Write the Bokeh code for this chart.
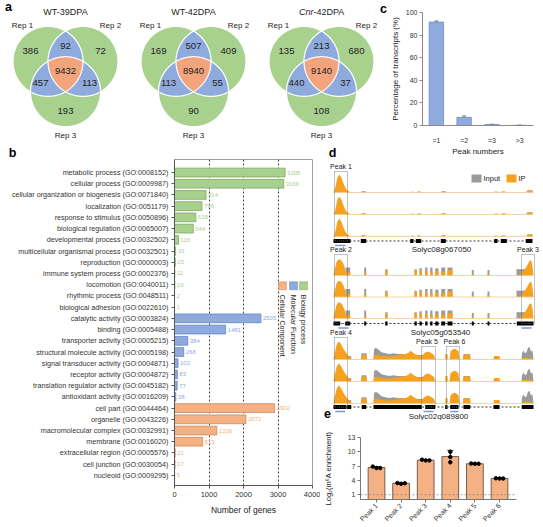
import math
import numpy as np
from bokeh.plotting import figure
from bokeh.layouts import row, column
from bokeh.models import (Range1d, FixedTicker, ColumnDataSource, Whisker,
                          TeeHead, FactorRange, Span)
from bokeh.core.properties import value
from bokeh.embed import file_html
from bokeh.resources import INLINE

FONT = "Liberation Sans"

# ---------------- data: panel a ----------------
venn_titles = ["WT-39DPA", "WT-42DPA", "Cnr-42DPA"]
rep_names = ["Rep 1", "Rep 2", "Rep 3"]
only_rep1 = [386, 169, 135]
only_rep2 = [72, 409, 680]
only_rep3 = [193, 90, 108]
rep1_rep2 = [92, 507, 213]
rep1_rep3 = [457, 113, 440]
rep2_rep3 = [113, 55, 37]
all_reps = [9432, 8940, 9140]

# ---------------- data: panel b ----------------
go_groups = ["Biology process", "Molecular Function", "Cellular Component"]
bp_terms = ["metabolic process (GO:0008152)", "cellular process (GO:0009987)",
            "cellular organization or biogenesis (GO:0071840)", "localization (GO:0051179)",
            "response to stimulus (GO:0050896)", "biological regulation (GO:0065007)",
            "developmental process (GO:0032502)", "multicellular organismal process (GO:0032501)",
            "reproduction (GO:0000003)", "immune system process (GO:0002376)",
            "locomotion (GO:0040011)", "rhythmic process (GO:0048511)",
            "biological adhesion (GO:0022610)"]
bp_counts = [3205, 3166, 914, 796, 618, 544, 116, 33, 25, 11, 10, 2, 1]
mf_terms = ["catalytic activity (GO:0003824)", "binding (GO:0005488)",
            "transporter activity (GO:0005215)", "structural molecule activity (GO:0005198)",
            "signal transducer activity (GO:0004871)", "receptor activity (GO:0004872)",
            "translation regulator activity (GO:0045182)", "antioxidant activity (GO:0016209)"]
mf_counts = [2505, 1481, 384, 268, 102, 83, 77, 38]
cc_terms = ["cell part (GO:0044464)", "organelle (GO:0043226)",
            "macromolecular complex (GO:0032991)", "membrane (GO:0016020)",
            "extracellular region (GO:0005576)", "cell junction (GO:0030054)",
            "nucleoid (GO:0009295)"]
cc_counts = [2902, 2072, 1226, 813, 21, 17, 5]
b_xticks = [0, 1000, 2000, 3000, 4000]

# ---------------- data: panel c ----------------
peak_number_cats = ["=1", "=2", "=3", ">3"]
transcript_pct = [91.5, 7.2, 0.9, 0.2]
transcript_pct_err = [1.0, 1.2, 0.2, 0.1]
c_yticks = [0, 20, 40, 60, 80, 100]

# ---------------- data: panel d ----------------
d_genes = ["Solyc08g067050", "Solyc05g053540", "Solyc02g089800"]
d_peak_names = ["Peak 1", "Peak 2", "Peak 3", "Peak 4", "Peak 5", "Peak 6"]
d_peak_locus = [0, 1, 1, 2, 2, 2]
d_peak_start = [1, 1, 188, 1, 88, 113]
d_peak_end = [14, 14, 201, 14, 102, 126]
d_probe_locus = [0, 1, 1, 2, 2, 2]
d_probe_start = [1.7, 5, 188, 1.7, 90, 116.7]
d_probe_end = [12, 15, 198, 11.7, 100, 125]
exon_start = [[0, 27.3, 76.7, 82.3, 107.3, 160.7, 167.3, 192.3],
              [0, 11.7, 30.7, 51.7, 81, 86, 91.7, 96.7, 101.7, 107.7, 114, 138.3, 154, 183.3],
              [0, 13.5, 28.3, 40, 91.7, 111.7, 116.7, 130, 160, 188.3]]
exon_end = [[17, 32.7, 80, 87.7, 112.3, 164, 173.3, 199],
            [6.7, 16.7, 32.7, 54, 83.3, 88.3, 94, 99, 105, 111.7, 119, 140.3, 156, 200],
            [13, 17.7, 32.7, 88.3, 101.7, 114, 125, 136.7, 166, 200]]
# IP coverage (smooth shapes): per locus, list of (x list, height list)
ip_curves = [
    [([0, 1, 2, 4, 6, 8, 10, 12, 14, 16, 18],
      [0, 0.1, 0.35, 0.85, 1.0, 0.8, 0.5, 0.25, 0.1, 0.04, 0])],
    [([0, 1, 3, 5, 7, 9, 11, 12, 13], [0, 0.3, 0.75, 0.9, 0.88, 0.75, 0.5, 0.25, 0]),
     ([186, 188, 190, 192, 194, 196, 197, 198, 199, 200],
      [0, 0.15, 0.25, 0.4, 0.6, 0.8, 0.85, 0.8, 0.5, 0])],
    [([0, 1, 3, 5, 7, 9, 11, 13, 15, 17, 18], [0, 0.3, 0.8, 1.0, 0.9, 0.7, 0.5, 0.35, 0.2, 0.12, 0]),
     ([27.5, 28, 30, 33, 33.5], [0, 0.2, 0.3, 0.25, 0]),
     ([40, 40.5, 44, 48, 52, 56, 60, 64, 68, 72, 75, 77, 79, 82, 85, 88, 90, 92, 94, 96, 98, 100, 101, 101.5],
      [0, 0.25, 0.25, 0.2, 0.18, 0.15, 0.2, 0.22, 0.28, 0.3, 0.38, 0.48, 0.4, 0.28, 0.22, 0.2, 0.3, 0.4, 0.45, 0.42, 0.35, 0.28, 0.2, 0]),
     ([111.7, 112, 114, 114.3], [0, 0.3, 0.3, 0]),
     ([116, 117, 119, 121, 123, 125, 126], [0, 0.45, 0.55, 0.6, 0.55, 0.45, 0]),
     ([129.5, 130, 133, 136.5, 137], [0, 0.25, 0.3, 0.25, 0]),
     ([160, 160.5, 166, 166.5], [0, 0.2, 0.2, 0]),
     ([188, 189, 199, 200], [0, 0.08, 0.08, 0])],
]
input_curves = [
    [],
    [],
    [([13, 13.5, 17.5, 18], [0, 0.2, 0.2, 0]),
     ([27.5, 28, 33, 33.5], [0, 0.35, 0.35, 0]),
     ([40, 40.5, 42, 44, 46, 48, 52, 56, 60, 64, 68, 72, 76, 80, 84, 88, 92, 96, 100, 101.5],
      [0, 0.55, 0.65, 0.6, 0.5, 0.4, 0.35, 0.3, 0.35, 0.3, 0.3, 0.3, 0.3, 0.3, 0.25, 0.25, 0.25, 0.25, 0.2, 0]),
     ([129.5, 130, 136.5, 137], [0, 0.3, 0.3, 0]),
     ([188, 188.5, 190, 191.5, 193, 194.5, 196, 197.5, 199, 200],
      [0, 0.35, 0.5, 0.35, 0.4, 0.65, 0.7, 0.45, 0.5, 0])],
]
# blocky coverage: per locus (starts, ends, heights)
ip_blocks = [
    ([28, 78, 84, 108, 161, 168, 193], [32, 80, 87, 112, 164, 172, 199],
     [0.07, 0.05, 0.06, 0.07, 0.05, 0.06, 0.1]),
    ([13, 30.7, 51.7, 81, 86, 91.7, 96.7, 101.7, 107.7, 114, 138.3, 154],
     [16.7, 32.7, 54, 83.3, 88.3, 94, 99, 105, 111.7, 119, 140.3, 156],
     [0.2, 0.15, 0.3, 0.3, 0.3, 0.25, 0.2, 0.25, 0.2, 0.3, 0.08, 0.08]),
    ([], [], []),
]
input_blocks = [
    ([28, 84, 108, 168, 194], [32, 87, 112, 172, 199], [0.05, 0.04, 0.05, 0.04, 0.12]),
    ([12, 30.7, 51.7, 81, 86, 91.7, 96.7, 101.7, 107.7, 114, 138.3, 154, 183],
     [16.7, 32.7, 54, 83.3, 88.3, 94, 99, 105, 111.7, 119, 140.3, 156, 192],
     [0.45, 0.45, 0.35, 0.35, 0.4, 0.45, 0.45, 0.4, 0.45, 0.45, 0.3, 0.3, 0.35]),
    ([], [], []),
]

# ---------------- data: panel e ----------------
e_peaks = ["Peak 1", "Peak 2", "Peak 3", "Peak 4", "Peak 5", "Peak 6"]
e_means = [6.7, 3.4, 8.25, 9.0, 7.5, 4.4]
e_err = [0.2, 0.1, 0.1, 1.3, 0.05, 0.1]
e_rep1 = [6.9, 3.45, 8.35, 10.0, 7.55, 4.45]
e_rep2 = [6.6, 3.3, 8.2, 8.9, 7.5, 4.4]
e_rep3 = [6.6, 3.4, 8.2, 7.8, 7.5, 4.4]
e_yticks = [1, 4, 7, 10, 13]

# ---------------- styles / layout (page px) ----------------
GREEN, BLUE, ORANGE = "#a9d18e", "#8faadc", "#f2a47c"
BAR_OR = "#f4b183"
IP_COL, INPUT_COL = "#f7a21e", "#9b9b9b"
TXT = "#222222"

W_TOT, H_TOT = 543, 527
ROW1_H = 158
A_W = 387
C_W = W_TOT - A_W
ROW2_H = H_TOT - ROW1_H
B_W = 320
D_W = W_TOT - B_W
D_H = 262
E_H = ROW2_H - D_H


def base_fig(**kw):
    f = figure(output_backend="svg", toolbar_location=None, title=None, **kw)
    f.background_fill_color = "white"
    f.border_fill_color = "white"
    f.frame_align = False
    return f


def style_axis(ax, size="7px"):
    ax.major_label_text_font = FONT
    ax.major_label_text_font_size = size
    ax.major_label_text_color = "#333333"
    ax.axis_label_text_font = FONT
    ax.axis_label_text_font_style = "normal"
    ax.axis_label_text_color = TXT
    ax.minor_tick_line_color = None


def letters(f, xs, ys, labels):
    f.text(x=xs, y=ys, text=labels, text_align="center", text_baseline="middle",
           text_font=value("Liberation Sans"), text_font_size="12.5px", text_font_style="bold",
           text_color="black")


# ================= panel a (also hosts letters a, b, c, d) =================
pa = base_fig(width=A_W, height=ROW1_H, x_range=Range1d(0, A_W),
              y_range=Range1d(ROW1_H, 0), x_axis_location=None, y_axis_location=None,
              min_border=0)
pa.grid.visible = False
pa.outline_line_color = None


def circ(c, n=360):
    t = np.linspace(0, 2 * np.pi, n, endpoint=False)
    return c[0] + c[2] * np.cos(t), c[1] + c[2] * np.sin(t)


def inter_poly(cs):
    pts = []
    for i, c in enumerate(cs):
        xs, ys = circ(c, 1440)
        m = np.ones(xs.shape, bool)
        for j, c2 in enumerate(cs):
            if j != i:
                m &= (xs - c2[0]) ** 2 + (ys - c2[1]) ** 2 <= c2[2] ** 2 + 1e-9
        pts.append(np.c_[xs[m], ys[m]])
    P = np.vstack(pts)
    ctr = P.mean(0)
    o = np.argsort(np.arctan2(P[:, 1] - ctr[1], P[:, 0] - ctr[0]))
    return list(P[o, 0]), list(P[o, 1])


venn_cx = [65, 193, 321]
venn_cy = 71.0
side, R = 35.0, 35.0
offs = {"o1": (-35, -21), "o2": (35, -21), "o3": (0, 39), "12": (0, -26),
        "13": (-25, 11), "23": (24, 11), "123": (0, -1)}
for k in range(3):
    cx = venn_cx[k]
    cs = [(cx - side / 2, venn_cy - side / (2 * math.sqrt(3)), R),
          (cx + side / 2, venn_cy - side / (2 * math.sqrt(3)), R),
          (cx, venn_cy + side / math.sqrt(3), R)]
    cxs, cys = [], []
    for c in cs:
        x, y = circ(c)
        cxs.append(list(x)); cys.append(list(y))
    pa.patches(cxs, cys, fill_color=GREEN, line_color=None)
    lx, ly = [], []
    for pair in [(0, 1), (0, 2), (1, 2)]:
        x, y = inter_poly([cs[pair[0]], cs[pair[1]]])
        lx.append(x); ly.append(y)
    pa.patches(lx, ly, fill_color=BLUE, line_color=None)
    tx, ty = inter_poly(cs)
    pa.patch(tx, ty, fill_color=ORANGE, line_color=None)
    pa.multi_line([x + x[:1] for x in cxs], [y + y[:1] for y in cys], line_color="white", line_width=1.2)
    vals = {"o1": only_rep1[k], "o2": only_rep2[k], "o3": only_rep3[k], "12": rep1_rep2[k],
            "13": rep1_rep3[k], "23": rep2_rep3[k], "123": all_reps[k]}
    keys = list(vals)
    pa.text(x=[cx + offs[q][0] for q in keys], y=[venn_cy + offs[q][1] for q in keys],
            text=[str(vals[q]) for q in keys], text_align="center", text_baseline="middle",
            text_font=value(FONT), text_font_size="9.5px", text_color=TXT)
    pa.text(x=[cx - 43, cx + 45, cx], y=[venn_cy - 46, venn_cy - 46, venn_cy + 64],
            text=rep_names, text_align="center", text_baseline="middle",
            text_font=value(FONT), text_font_size="8px", text_color=TXT)
    title = venn_titles[k]
    ty0 = venn_cy - 59.3
    if title.startswith("Cnr"):
        pa.text(x=[cx - 8], y=[ty0], text=["Cnr"], text_align="right", text_baseline="middle",
                text_font=value(FONT), text_font_size="9px", text_font_style="italic", text_color=TXT)
        pa.text(x=[cx - 8], y=[ty0], text=[title[3:]], text_align="left", text_baseline="middle",
                text_font=value(FONT), text_font_size="9px", text_color=TXT)
    else:
        pa.text(x=[cx], y=[ty0], text=[title], text_align="center", text_baseline="middle",
                text_font=value(FONT), text_font_size="9px", text_color=TXT)
letters(pa, [8, 383, 12, 332], [6, 8, 152, 152], ["a", "c", "b", "d"])

# ================= panel c =================
pc = base_fig(width=C_W, height=ROW1_H, x_range=FactorRange(*peak_number_cats),
              y_range=Range1d(0, 100), min_border_left=31, min_border_right=10,
              min_border_top=12, min_border_bottom=ROW1_H - 126)
pc.grid.visible = False
pc.outline_line_color = None
pc.vbar(x=peak_number_cats, top=transcript_pct, width=0.52, fill_color=BLUE, line_color="#6d8dca", line_width=0.8)
src_c = ColumnDataSource(dict(x=peak_number_cats,
                              up=[v + e for v, e in zip(transcript_pct, transcript_pct_err)],
                              lo=[v - e for v, e in zip(transcript_pct, transcript_pct_err)]))
pc.add_layout(Whisker(base="x", upper="up", lower="lo", source=src_c, line_color="#555555", line_width=0.8,
                      upper_head=TeeHead(size=4, line_color="#555555", line_width=0.8),
                      lower_head=TeeHead(size=4, line_color="#555555", line_width=0.8)))
pc.yaxis.ticker = FixedTicker(ticks=c_yticks)
for ax in (pc.xaxis[0], pc.yaxis[0]):
    style_axis(ax, "7px")
    ax.axis_line_color = "#8a8a8a"
    ax.major_tick_line_color = "#8a8a8a"
    ax.axis_label_text_font_size = "8px"
pc.xaxis.major_tick_line_color = None
pc.xaxis.major_label_standoff = 5
pc.xaxis.axis_label = "Peak numbers"
pc.xaxis.axis_label_standoff = 0
pc.yaxis.axis_label = "Percentage of transcripts (%)"
pc.yaxis.major_tick_out = 3
pc.yaxis.major_tick_in = 0
pc.yaxis.major_label_standoff = 2
pc.yaxis.axis_label_standoff = 3

# ================= panel b =================
go_terms = bp_terms + mf_terms + cc_terms
go_counts = bp_counts + mf_counts + cc_counts
fills = [GREEN] * len(bp_terms) + [BLUE] * len(mf_terms) + [BAR_OR] * len(cc_terms)
lines = ["#7fa860"] * len(bp_terms) + ["#6384c4"] * len(mf_terms) + ["#cf8a5c"] * len(cc_terms)
idx = list(range(len(go_terms)))
src_b = ColumnDataSource(dict(y=idx, count=go_counts, label=[str(v) for v in go_counts],
                              fill=fills, line=lines))
pb = base_fig(width=B_W, height=ROW2_H, x_range=Range1d(0, 4000), y_range=Range1d(27.9, -1.16),
              min_border_left=174, min_border_right=8, min_border_top=1, min_border_bottom=42)
pb.outline_line_color = "#a0a0a0"
pb.ygrid.visible = False
pb.xgrid.ticker = FixedTicker(ticks=b_xticks[1:-1])
pb.xgrid.grid_line_color = "#444444"
pb.xgrid.grid_line_dash = "2 2"
pb.xgrid.grid_line_width = 1
pb.hbar(y="y", left=0, right="count", height=0.78, fill_color="fill", line_color="line",
        line_width=0.8, source=src_b)
pb.text(x="count", y="y", text="label", x_offset=2, text_baseline="middle", text_align="left",
        text_font=value(FONT), text_font_size="6px", text_color="fill", source=src_b)
pb.yaxis.ticker = FixedTicker(ticks=idx)
pb.yaxis.major_label_overrides = {i: t for i, t in zip(idx, go_terms)}
pb.xaxis.ticker = FixedTicker(ticks=b_xticks)
style_axis(pb.yaxis[0], "7.2px")
style_axis(pb.xaxis[0], "7.5px")
for ax in (pb.xaxis[0], pb.yaxis[0]):
    ax.axis_line_color = "#555555"
    ax.major_tick_line_color = "#555555"
    ax.major_tick_out = 3
    ax.major_tick_in = 0
    ax.major_label_standoff = 3
pb.xaxis.axis_label = "Number of genes"
pb.xaxis.axis_label_text_font_size = "8.5px"
pb.xaxis.axis_label_standoff = 5
# rotated legend (swatches above, text reading downward)
leg_x = [3740, 3450, 3130]
leg_col = [GREEN, BLUE, BAR_OR]
leg_line = ["#7fa860", "#6384c4", "#cf8a5c"]
pb.rect(x=leg_x, y=[10.1] * 3, width=8, height=8, width_units="screen", height_units="screen",
        fill_color=leg_col, line_color=leg_line, line_width=0.5)
pb.text(x=leg_x, y=[10.9] * 3, text=go_groups, angle=-math.pi / 2, text_align="left",
        text_baseline="middle", text_font=value(FONT), text_font_size="7px", text_color=TXT)

# ================= panel d (also hosts letter e) =================
D_Y0 = ROW1_H
pd_ = base_fig(width=D_W, height=D_H, x_range=Range1d(-13, -13 + D_W),
               y_range=Range1d(D_Y0 + D_H, D_Y0), x_axis_location=None, y_axis_location=None,
               min_border=0)
pd_.grid.visible = False
pd_.outline_line_color = None
track_base = [[192, 214, 236], [275, 296.5, 318], [359, 381, 403]]
gene_y = [240.5, 323, 406.5]
TH = 18.0
for L in range(3):
    for b in track_base[L]:
        for xs, hs in input_curves[L]:
            pd_.varea(x=xs, y1=[b] * len(xs), y2=[b - h * TH for h in hs], fill_color=INPUT_COL)
        st, en, hh = input_blocks[L]
        if st:
            pd_.quad(left=st, right=en, bottom=[b] * len(st), top=[b - h * TH for h in hh],
                     fill_color=INPUT_COL, line_color=None)
        for xs, hs in ip_curves[L]:
            pd_.varea(x=xs, y1=[b] * len(xs), y2=[b - h * TH for h in hs], fill_color=IP_COL)
        st, en, hh = ip_blocks[L]
        if st:
            pd_.quad(left=st, right=en, bottom=[b] * len(st), top=[b - h * TH for h in hh],
                     fill_color=IP_COL, line_color=None)
        pd_.segment(x0=[0], x1=[200], y0=[b], y1=[b], line_color="#f7c88e", line_width=0.8)
    gy = gene_y[L]
    pd_.segment(x0=[0], x1=[200], y0=[gy], y1=[gy], line_color="black", line_width=0.8, line_dash="2 2")
    pd_.quad(left=exon_start[L], right=exon_end[L], bottom=[gy + 2] * len(exon_start[L]),
             top=[gy - 2] * len(exon_start[L]), fill_color="black", line_color=None)
pd_.segment(x0=d_probe_start, x1=d_probe_end, y0=[gene_y[l] + 4.5 for l in d_probe_locus],
            y1=[gene_y[l] + 4.5 for l in d_probe_locus], line_color="#7b9ad6", line_width=1.5)
box_top = [171, 254, 254, 337, 346, 346]
label_dx = [0, 0, 0, 0, -1.5, 1.5]
pd_.quad(left=d_peak_start, right=d_peak_end, top=box_top,
         bottom=[gene_y[l] for l in d_peak_locus], fill_color=None, line_color="#666666",
         line_width=0.8, line_dash="1 1")
pd_.text(x=[(a + b) / 2 + dx for a, b, dx in zip(d_peak_start, d_peak_end, label_dx)],
         y=[t - 5 for t in box_top], text=d_peak_names, text_align="center", text_baseline="middle",
         text_font=value(FONT), text_font_size="7px", text_color=TXT)
pd_.text(x=[108, 107, 105], y=[249, 332, 416], text=d_genes, text_align="center",
         text_baseline="middle", text_font=value(FONT), text_font_size="8px", text_color=TXT)
pd_.rect(x=[143, 178], y=[178, 178], width=10, height=8, fill_color=[INPUT_COL, IP_COL], line_color=None)
pd_.text(x=[150, 185], y=[178, 178], text=["Input", "IP"], text_align="left", text_baseline="middle",
         text_font=value(FONT), text_font_size="7.5px", text_color=TXT)
letters(pd_, [-6], [413], ["e"])

# ================= panel e =================
E_Y0 = D_Y0 + D_H
e_pos = list(range(1, len(e_peaks) + 1))
pe = base_fig(width=D_W, height=E_H, x_range=Range1d(0.35, 6.69), y_range=Range1d(0, 13),
              min_border_left=40, min_border_right=27,
              min_border_top=int(round(437.3 - E_Y0)),
              min_border_bottom=E_H - int(round(501.7 - E_Y0)))
pe.grid.visible = False
pe.outline_line_color = None
pe.vbar(x=e_pos, top=e_means, width=0.68, fill_color=BAR_OR, line_color="#5a4030", line_width=0.8)
pe.add_layout(Span(location=1, dimension="width", line_color="#888888", line_dash="2 2", line_width=0.8))
src_e = ColumnDataSource(dict(x=e_pos, up=[m + e for m, e in zip(e_means, e_err)],
                              lo=[m - e for m, e in zip(e_means, e_err)]))
pe.add_layout(Whisker(base="x", upper="up", lower="lo", source=src_e, line_color="black", line_width=0.8,
                      upper_head=TeeHead(size=6, line_color="black", line_width=0.8),
                      lower_head=TeeHead(size=6, line_color="black", line_width=0.8)))
dot_dx = [[-0.15, 0, 0.15]] * 3 + [[0, 0, 0]] + [[-0.15, 0, 0.15]] * 2
for reps, j in ((e_rep1, 0), (e_rep2, 1), (e_rep3, 2)):
    pe.scatter(x=[p + dot_dx[i][j] for i, p in enumerate(e_pos)], y=reps, size=3.5,
               fill_color="black", line_color="black")
pe.xaxis.ticker = FixedTicker(ticks=e_pos)
pe.xaxis.major_label_overrides = {p: n for p, n in zip(e_pos, e_peaks)}
pe.xaxis.major_label_orientation = math.pi / 4
pe.yaxis.ticker = FixedTicker(ticks=e_yticks)
for ax in (pe.xaxis[0], pe.yaxis[0]):
    style_axis(ax, "7px")
    ax.axis_line_color = "#777777"
    ax.major_tick_line_color = "#777777"
    ax.major_tick_out = 3
    ax.major_tick_in = 0
    ax.major_label_standoff = 2
pe.yaxis.axis_label = "Log\u2082(m\u2076A enrichment)"
pe.yaxis.axis_label_text_font_size = "7.5px"
pe.yaxis.axis_label_standoff = 12

layout = column(row(pa, pc), row(pb, column(pd_, pe)))
open("out.html", "w").write(file_html(layout, INLINE, title="m6A"))
